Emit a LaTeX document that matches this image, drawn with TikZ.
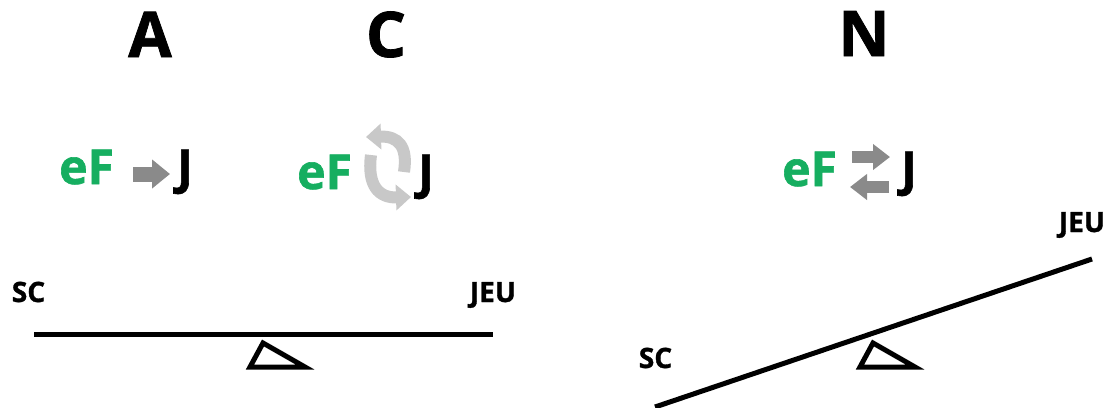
\documentclass[tikz,border=0pt]{standalone}
\usepackage{fontspec}
\setmainfont{Open Sans}[BoldFeatures={FakeBold=1.2}]
\usetikzlibrary{arrows.meta}
\definecolor{efgreen}{RGB}{22,174,96}
\definecolor{arrgray}{RGB}{138,138,138}
\definecolor{cycgray}{RGB}{200,200,200}
\tikzset{
  title/.style={anchor=base, inner sep=0pt, font=\fontsize{63}{65}\selectfont\bfseries},
  ef/.style={anchor=base west, inner sep=0pt, text=efgreen, font=\fontsize{48}{50}\selectfont\bfseries},
  jj/.style={anchor=base, inner sep=0pt, font=\fontsize{48}{50}\selectfont\bfseries},
  lab/.style={anchor=base, inner sep=0pt, font=\fontsize{28}{30}\selectfont\bfseries},
  bar/.style={line width=5pt},
  pivot/.style={line width=5pt, line join=miter},
  bigarr/.style={arrgray, line width=15pt, -{Triangle[length=18pt,width=28pt]}},
  smallarr/.style={arrgray, line width=12pt, -{Triangle[length=17pt,width=25pt]}},
  cycarr/.style={cycgray, line width=12pt, -{Triangle[length=15pt,width=25pt]}}
}
\begin{document}
\begin{tikzpicture}[x=1pt,y=-1pt]
\useasboundingbox (0,0) rectangle (1107,407);
% titles
\node[title] (tA) at (150,57) {A};
\node[title] (tC) at (386,57) {C};
\node[title] (tN) at (864,56) {N};
% group A
\node[ef] (efA) at (59,184) {eF};
\node[jj] (jA) at (185,184) {J};
\coordinate (a1s) at (133,174);
\coordinate (a1e) at (170,174);
\draw[bigarr] (a1s) -- (a1e);
% group C
\node[ef] (efC) at (297,189) {eF};
\node[jj] (jC) at (426,189) {J};
\coordinate (c1s) at (404,172);
\coordinate (c1e) at (366,137);
\coordinate (c2s) at (371,155);
\coordinate (c2e) at (411,197);
\draw[cycarr] (c1s) .. controls (408,146) and (398,136) .. (c1e);
\draw[cycarr] (c2s) .. controls (367,186) and (379,198) .. (c2e);
% group N
\node[ef] (efN) at (782,186) {eF};
\node[jj] (jN) at (909,186) {J};
\coordinate (n1s) at (852,157);
\coordinate (n1e) at (890,157);
\coordinate (n2s) at (889,187);
\coordinate (n2e) at (850,187);
\draw[smallarr] (n1s) -- (n1e);
\draw[smallarr] (n2s) -- (n2e);
% left seesaw
\coordinate (l1) at (34,334);
\coordinate (l2) at (493,334);
\draw[bar] (l1) -- (l2);
\node[lab] (scL) at (28.5,302) {SC};
\node[lab] (jeuL) at (493,302) {JEU};
\draw[pivot] (263,343) -- (305,367) -- (250,367) -- cycle;
% right seesaw
\coordinate (r1) at (655,407);
\coordinate (r2) at (1092,259);
\draw[bar] (r1) -- (r2);
\node[lab] (scR) at (655.5,368) {SC};
\node[lab] (jeuR) at (1082,232) {JEU};
\draw[pivot] (873,343) -- (915,367) -- (860,367) -- cycle;
\end{tikzpicture}
\end{document}
